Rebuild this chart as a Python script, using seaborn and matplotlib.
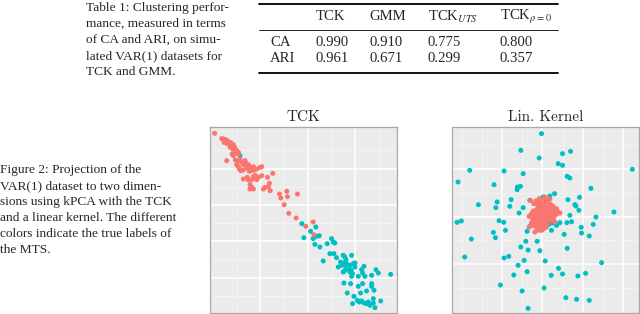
import pandas as pd
import seaborn as sns
import matplotlib.pyplot as plt
from matplotlib.lines import Line2D

# --- CONFIGURATION ---
W, H = 640, 314
RED = "#F8766D"
CYAN = "#00BFC4"

# Table 1 values
METHODS = ["TCK", "GMM", r"TCK$_{UTS}$", r"TCK$_{\rho=0}$"]
ROW_NAMES = ["CA", "ARI"]
CA = ["0.990", "0.910", "0.775", "0.800"]
ARI = ["0.961", "0.671", "0.299", "0.357"]

TABLE_CAPTION = [
    "Table 1: Clustering perfor-",
    "mance, measured in terms",
    "of CA and ARI, on simu-",
    "lated VAR(1) datasets for",
    "TCK and GMM.",
]
FIGURE_CAPTION = [
    "Figure 2: Projection of the",
    "VAR(1) dataset to two dimen-",
    "sions using kPCA with the TCK",
    "and a linear kernel. The different",
    "colors indicate the true labels of",
    "the MTS.",
]

# kPCA projections (first two components, arbitrary units)
tck_red = [
    (-271, 261), (-245, 244), (-241, 241), (-237, 237), (-243, 234), (-235, 231),
    (-230, 235), (-227, 229), (-223, 233), (-220, 224), (-225, 219), (-215, 227),
    (-213, 221), (-217, 214), (-210, 217), (-205, 209), (-207, 201), (-200, 204),
    (-219, 199), (-215, 194), (-235, 179), (-209, 181), (-203, 177), (-195, 184),
    (-190, 174), (-180, 179), (-177, 171), (-185, 167), (-205, 167), (-200, 161),
    (-197, 154), (-193, 149), (-185, 151), (-175, 157), (-170, 167), (-165, 159),
    (-155, 161), (-167, 147), (-160, 149), (-153, 151), (-145, 154), (-135, 159),
    (-130, 161), (-130, 134), (-140, 129), (-150, 127), (-155, 131), (-173, 129),
    (-185, 124), (-170, 121), (-165, 107), (-160, 99), (-155, 94), (-165, 94),
    (-125, 94), (-120, 99), (-110, 101), (-113, 129), (-107, 111), (-105, 89),
    (-97, 141), (-77, 79), (-73, 67), (-55, 87), (-53, 71), (-23, 79),
    (-63, 47), (-49, 21), (-27, 7), (24, -5), (2, -18), (26, -43),
    (-250, 245), (-238, 242), (-232, 238), (-210, 212), (-200, 200), (-150, 135),
    (-145, 122), (-160, 122),
]
tck_blue = [
    (32, -20), (16, -33), (-4, -52), (34, -48), (42, -46), (24, -55), (29, -72),
    (44, -80), (79, -55), (84, -65), (89, -68), (66, -70), (74, -100), (86, -100),
    (54, -122), (94, -112), (114, -105), (119, -110), (122, -118), (139, -105),
    (106, -125), (109, -135), (99, -140), (119, -135), (124, -130), (134, -135),
    (144, -130), (149, -128), (129, -145), (119, -150), (114, -155), (134, -155),
    (142, -160), (139, -168), (149, -140), (176, -138), (169, -148), (172, -158),
    (179, -168), (159, -168), (212, -148), (219, -158), (256, -162), (199, -165),
    (116, -188), (136, -190), (172, -190), (199, -190), (199, -198), (159, -198),
    (206, -210), (184, -212), (126, -218), (166, -218), (146, -228), (156, -240),
    (162, -245), (169, -242), (176, -248), (184, -250), (189, -245), (204, -235),
    (204, -248), (194, -255), (209, -262), (226, -242), (142, -250), (-195, 194),
    (-10, -10), (130, -140), (126, -138), (118, -128), (138, -150),
]
lin_red = [
    (-45, 59), (-29, 57), (-17, 54), (-5, 61), (8, 59), (1, 49), (-12, 47),
    (-22, 41), (15, 47), (23, 41), (11, 39), (-2, 37), (-15, 34), (-27, 31),
    (-37, 27), (-7, 29), (5, 27), (18, 29), (28, 24), (38, 24), (43, 21),
    (-17, 21), (-5, 19), (8, 17), (21, 14), (33, 17), (-32, 14), (-22, 9),
    (-12, 7), (1, 9), (13, 7), (23, 4), (-39, 4), (-27, -1), (-15, -3),
    (-2, -1), (11, -3), (-32, -6), (-19, -11), (-7, -13), (5, -11), (-29, -19),
    (-17, -21), (-5, -26), (-49, -21), (-32, -36), (-22, -31), (-12, -31),
    (3, -21), (15, -1), (28, -6), (-42, 19), (-25, 24), (-9, 14), (3, 4),
    (18, 19), (33, 34), (-19, 64), (-2, 69), (13, 63), (-35, 49), (-49, 11),
    (-42, -9), (-27, 49), (-12, 39), (-1, 44), (7, 34), (21, 34), (-15, 1),
    (-3, -6), (9, 11), (25, 11), (-32, 7), (-21, 17), (-9, 1), (-37, -16),
    (-25, -25),
]
lin_blue = [
    (-12, 259), (-74, 209), (51, 199), (75, 206), (-19, 186), (38, 169),
    (51, 164), (-227, 149), (-124, 147), (260, 152), (-67, 139), (65, 131),
    (73, 126), (-262, 114), (-154, 106), (-84, 99), (-75, 101), (-85, 91),
    (136, 95), (27, 79), (-7, 69), (13, 72), (102, 68), (-103, 61), (-47, 59),
    (-145, 54), (-201, 46), (67, 61), (88, 46), (91, 42), (-149, 37), (-107, 41),
    (-67, 37), (-79, 21), (100, 29), (205, 24), (73, 14), (151, 9), (-139, -2),
    (-125, -7), (-265, -7), (-252, -3), (43, -8), (64, -8), (78, -5), (33, -16),
    (21, -9), (10, -13), (18, -31), (-47, -19), (-55, -34), (143, -13),
    (107, -22), (108, -39), (131, -48), (-120, -31), (-156, -37), (-150, -53),
    (-222, -57), (56, -43), (-59, -64), (-25, -64), (-17, -92), (-74, -81),
    (-52, -90), (65, -85), (-242, -111), (-124, -114), (-110, -109), (-64, -121),
    (-1, -123), (168, -128), (-82, -136), (39, -145), (-55, -155), (-95, -165),
    (17, -166), (51, -162), (97, -168), (120, -160), (-135, -195), (-4, -204),
    (-70, -213), (61, -233), (93, -238), (131, -241), (-52, -265),
]


def to_frame(blue, red):
    """Blue first so the red class is drawn on top."""
    rows = [(x, y, "2") for x, y in blue] + [(x, y, "1") for x, y in red]
    return pd.DataFrame(rows, columns=["pc1", "pc2", "label"])


def pixel_text(fig, px, py, s, **kw):
    fig.text(px / W, 1 - py / H, s, **kw)


def hline(fig, x0, x1, py, lw):
    fig.add_artist(Line2D([x0 / W, x1 / W], [1 - py / H, 1 - py / H],
                          color="black", lw=lw, transform=fig.transFigure))


def draw_panel(ax, df, title, xlim, ylim, xmajor, xminor, ymajor, yminor):
    sns.scatterplot(data=df, x="pc1", y="pc2", hue="label",
                    palette={"1": RED, "2": CYAN}, s=13, linewidth=0,
                    legend=False, ax=ax)
    ax.set_xlim(xlim)
    ax.set_ylim(ylim)
    ax.set_xticks(xmajor)
    ax.set_xticks(xminor, minor=True)
    ax.set_yticks(ymajor)
    ax.set_yticks(yminor, minor=True)
    ax.grid(which="major", color="white", lw=1.1)
    ax.grid(which="minor", color="#F4F4F4", lw=0.6)
    ax.set_axisbelow(True)
    ax.tick_params(which="both", length=0, labelbottom=False, labelleft=False)
    ax.set_xlabel("")
    ax.set_ylabel("")
    for sp in ax.spines.values():
        sp.set_visible(True)
        sp.set_color("#A8A8A8")
        sp.set_linewidth(0.9)
    ax.set_title(title, fontfamily="cmr10", fontsize=11, pad=4)


sns.set_style("darkgrid", {"axes.facecolor": "#EBEBEB", "grid.color": "white"})
plt.rcParams["font.family"] = ["Liberation Serif", "DejaVu Serif"]
plt.rcParams["mathtext.fontset"] = "stix"

fig = plt.figure(figsize=(W / 100, H / 100), dpi=100)

# table caption
for i, line in enumerate(TABLE_CAPTION):
    pixel_text(fig, 86, 8 + 16 * i, line, fontsize=9.6, va="center")

# table 1
hline(fig, 259, 558, 4, 1.3)
hline(fig, 259, 558, 30, 0.6)
hline(fig, 259, 558, 73, 1.3)
col_x = [316, 369, 428, 500]
for cx, name in zip(col_x, METHODS):
    pixel_text(fig, cx, 17, name, fontsize=10.6, va="center")
for ry, rname, vals in zip([43, 58], ROW_NAMES, [CA, ARI]):
    pixel_text(fig, 270, ry, rname, fontsize=10.6, va="center")
    for cx, v in zip(col_x, vals):
        pixel_text(fig, cx, ry, v, fontsize=10.6, va="center")

# figure caption
for i, line in enumerate(FIGURE_CAPTION):
    pixel_text(fig, 0, 170 + 16 * i, line, fontsize=9.6, va="center")

ax1 = fig.add_axes([210 / W, 1 - 313 / H, 187 / W, 186 / H])
draw_panel(ax1, to_frame(tck_blue, tck_red), "TCK",
           (-285, 275), (-278, 280),
           [-134, 8, 150], [-205, -63, 79, 221],
           [-172, -63, 46, 155], [-226, -117, -8, 101, 210])

ax2 = fig.add_axes([452 / W, 1 - 313 / H, 187 / W, 186 / H])
draw_panel(ax2, to_frame(lin_blue, lin_red), "Lin. Kernel",
           (-280, 280), (-279, 279),
           [-129, -9, 112, 232], [-249, -189, -69, 52, 172],
           [-133, 8, 152], [-205, -61, 80, 224])

fig.savefig("out.png", dpi=100)
